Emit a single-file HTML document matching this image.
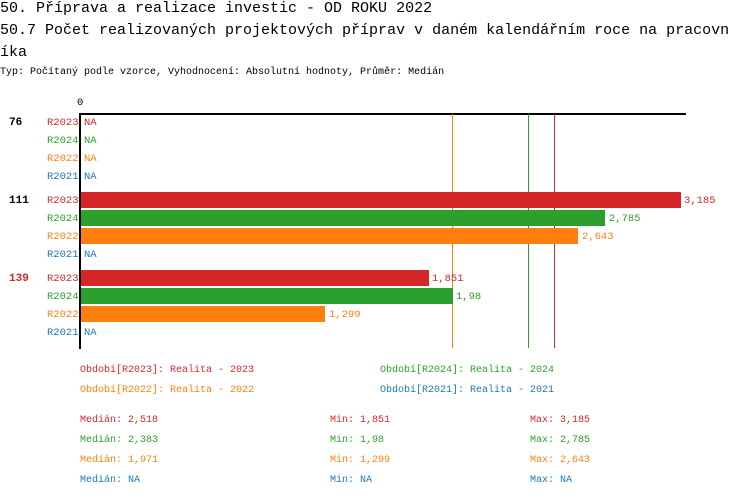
<!DOCTYPE html>
<html><head><meta charset="utf-8"><style>
body{margin:0;background:#fff;width:750px;height:498px;overflow:hidden;position:relative;font-family:"Liberation Mono",monospace}
.t{position:absolute;white-space:pre;line-height:1}
.r{color:#d62728}.g{color:#2ca02c}.o{color:#ff7f0e}.b{color:#1f77b4}
.s{font-size:10.5px}
.bar{position:absolute;height:16px}
</style></head><body>
<div class="t" style="left:0;top:1px;font-size:15px">50. Příprava a realizace investic - OD ROKU 2022</div>
<div class="t" style="left:0;top:23px;font-size:15px">50.7 Počet realizovaných projektových příprav v daném kalendářním roce na pracovn</div>
<div class="t" style="left:0;top:45px;font-size:15px">íka</div>
<div class="t" style="left:0;top:68px;font-size:10px">Typ: Počítaný podle vzorce, Vyhodnocení: Absolutní hodnoty, Průměr: Medián</div>
<div class="t s" style="left:77px;top:98px">0</div>
<div style="position:absolute;left:80px;top:113px;width:606px;height:1.5px;background:#000"></div>
<div style="position:absolute;left:79px;top:113px;width:2px;height:236px;background:#000"></div>
<div style="position:absolute;left:452px;top:114px;width:1px;height:234px;background:#ff7f0e"></div>
<div style="position:absolute;left:528px;top:114px;width:1px;height:234px;background:#2ca02c"></div>
<div style="position:absolute;left:554px;top:114px;width:1px;height:234px;background:#d62728"></div>
<div class="t" style="left:9px;top:118px;font-size:11px;font-weight:bold">76</div>
<div class="t" style="left:9px;top:196px;font-size:11px;font-weight:bold">111</div>
<div class="t r" style="left:9px;top:274px;font-size:11px;font-weight:bold">139</div>
<div class="t s r" style="left:47px;top:118px">R2023</div><div class="t s r" style="left:84px;top:118px">NA</div>
<div class="t s g" style="left:47px;top:136px">R2024</div><div class="t s g" style="left:84px;top:136px">NA</div>
<div class="t s o" style="left:47px;top:154px">R2022</div><div class="t s o" style="left:84px;top:154px">NA</div>
<div class="t s b" style="left:47px;top:172px">R2021</div><div class="t s b" style="left:84px;top:172px">NA</div>
<div class="t s r" style="left:47px;top:196px">R2023</div>
<div class="bar" style="left:81px;top:192px;width:600px;background:#d62728"></div><div class="t s r" style="left:684px;top:196px">3,185</div>
<div class="t s g" style="left:47px;top:214px">R2024</div>
<div class="bar" style="left:81px;top:210px;width:524px;background:#2ca02c"></div><div class="t s g" style="left:609px;top:214px">2,785</div>
<div class="t s o" style="left:47px;top:232px">R2022</div>
<div class="bar" style="left:81px;top:228px;width:497px;background:#ff7f0e"></div><div class="t s o" style="left:582px;top:232px">2,643</div>
<div class="t s b" style="left:47px;top:250px">R2021</div><div class="t s b" style="left:84px;top:250px">NA</div>
<div class="t s r" style="left:47px;top:274px">R2023</div>
<div class="bar" style="left:81px;top:270px;width:348px;background:#d62728"></div><div class="t s r" style="left:432px;top:274px">1,851</div>
<div class="t s g" style="left:47px;top:292px">R2024</div>
<div class="bar" style="left:81px;top:288px;width:372px;background:#2ca02c"></div><div class="t s g" style="left:456px;top:292px">1,98</div>
<div class="t s o" style="left:47px;top:310px">R2022</div>
<div class="bar" style="left:81px;top:306px;width:244px;background:#ff7f0e"></div><div class="t s o" style="left:329px;top:310px">1,299</div>
<div class="t s b" style="left:47px;top:328px">R2021</div><div class="t s b" style="left:84px;top:328px">NA</div>
<div class="t r" style="left:80px;top:366px;font-size:10px">Období[R2023]: Realita - 2023</div>
<div class="t g" style="left:380px;top:366px;font-size:10px">Období[R2024]: Realita - 2024</div>
<div class="t o" style="left:80px;top:386px;font-size:10px">Období[R2022]: Realita - 2022</div>
<div class="t b" style="left:380px;top:386px;font-size:10px">Období[R2021]: Realita - 2021</div>
<div class="t r" style="left:80px;top:416px;font-size:10px">Medián: 2,518</div><div class="t r" style="left:330px;top:416px;font-size:10px">Min: 1,851</div><div class="t r" style="left:530px;top:416px;font-size:10px">Max: 3,185</div>
<div class="t g" style="left:80px;top:436px;font-size:10px">Medián: 2,383</div><div class="t g" style="left:330px;top:436px;font-size:10px">Min: 1,98</div><div class="t g" style="left:530px;top:436px;font-size:10px">Max: 2,785</div>
<div class="t o" style="left:80px;top:456px;font-size:10px">Medián: 1,971</div><div class="t o" style="left:330px;top:456px;font-size:10px">Min: 1,299</div><div class="t o" style="left:530px;top:456px;font-size:10px">Max: 2,643</div>
<div class="t b" style="left:80px;top:476px;font-size:10px">Medián: NA</div><div class="t b" style="left:330px;top:476px;font-size:10px">Min: NA</div><div class="t b" style="left:530px;top:476px;font-size:10px">Max: NA</div>
</body></html>
